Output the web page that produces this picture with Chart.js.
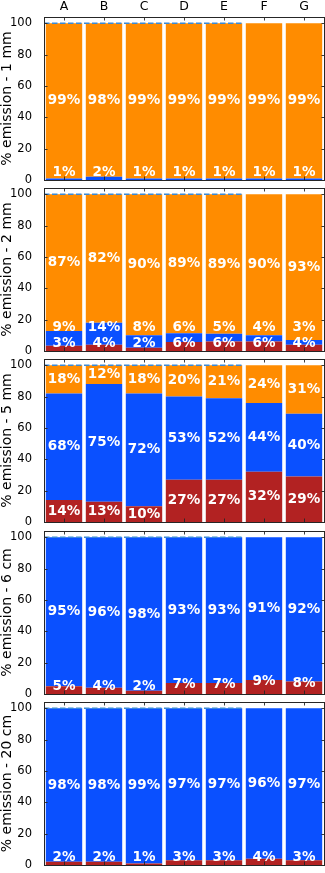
<!DOCTYPE html>
<html>
<head>
<meta charset="utf-8">
<script src="https://cdn.jsdelivr.net/npm/chart.js@4.4.1/dist/chart.umd.min.js"></script>
<style>
  html, body { margin: 0; padding: 0; background: #ffffff; width: 325px; height: 873px; overflow: hidden; }
  canvas { position: absolute; left: 0; }
</style>
</head>
<body>
<canvas id="c0" width="325" height="188" style="top:0px"></canvas>
<canvas id="c1" width="325" height="188" style="top:171px"></canvas>
<canvas id="c2" width="325" height="188" style="top:342px"></canvas>
<canvas id="c3" width="325" height="188" style="top:514px"></canvas>
<canvas id="c4" width="325" height="188" style="top:685px"></canvas>
<script>
// ---------------- data ----------------
const categories = ['A', 'B', 'C', 'D', 'E', 'F', 'G'];
const yTicks = [0, 20, 40, 60, 80, 100];
const panelTitles = ['% emission - 1 mm', '% emission - 2 mm', '% emission - 5 mm', '% emission - 6 cm', '% emission - 20 cm'];
const seriesNames = ['red', 'blue', 'orange'];

const red1mm    = [0, 0, 0, 0, 0, 0, 0];
const blue1mm   = [1, 2, 1, 1, 1, 1, 1];
const orange1mm = [99, 98, 99, 99, 99, 99, 99];

const red2mm    = [3.3, 4, 2, 5.7, 6, 6, 4];
const blue2mm   = [9.4, 14, 8, 5.6, 5, 4, 3];
const orange2mm = [87.3, 82, 90, 88.7, 89, 90, 93];

const red5mm    = [14, 13, 10, 27, 27, 32, 29];
const blue5mm   = [68, 75, 72, 53, 52, 44, 40];
const orange5mm = [18, 12, 18, 20, 21, 24, 31];

const red6cm    = [5, 4, 2, 7, 7, 9, 8];
const blue6cm   = [95, 96, 98, 93, 93, 91, 92];
const orange6cm = [0, 0, 0, 0, 0, 0, 0];

const red20cm    = [2, 2, 1, 3, 3, 4, 3];
const blue20cm   = [98, 98, 99, 97, 97, 96, 97];
const orange20cm = [0, 0, 0, 0, 0, 0, 0];

const referenceValue = 100;      // dashed reference line
const referenceLastCategory = 'E';

const panels = [
  [red1mm, blue1mm, orange1mm],
  [red2mm, blue2mm, orange2mm],
  [red5mm, blue5mm, orange5mm],
  [red6cm, blue6cm, orange6cm],
  [red20cm, blue20cm, orange20cm]
];

// ---------------- style ----------------
const COLORS = { red: '#B22222', blue: '#0A50FF', orange: '#FF8C00' };
const FONT = 'DejaVu Sans';
const AXIS_COLOR = '#262626';

const decorPlugin = {
  id: 'decor',
  afterDatasetsDraw(chart) {
    const { ctx, chartArea: a, scales: { x, y } } = chart;
    ctx.save();
    // value labels
    ctx.font = 'bold 13.5px "' + FONT + '"';
    ctx.fillStyle = '#ffffff';
    ctx.textAlign = 'center';
    ctx.textBaseline = 'middle';
    for (let i = 0; i < categories.length; i++) {
      let base = 0, prev = -Infinity;
      chart.data.datasets.forEach((ds, d) => {
        const v = ds.data[i];
        if (!v) return;
        const top = base + v;
        let ly = v >= 10 ? base + v / 2 : Math.max(top - 1, 5);
        ly = Math.max(ly, prev + 10);
        prev = ly;
        const bar = chart.getDatasetMeta(d).data[i];
        ctx.fillText(Math.round(v) + '%', bar.x, y.getPixelForValue(ly));
        base = top;
      });
    }
    // dashed reference line
    const ri = categories.indexOf(referenceLastCategory);
    const xEnd = (x.getPixelForValue(ri) + x.getPixelForValue(ri + 1)) / 2;
    const yRef = y.getPixelForValue(referenceValue);
    ctx.strokeStyle = '#3a8ad6';
    ctx.lineWidth = 1.5;
    ctx.setLineDash([5.5, 2.5]);
    ctx.beginPath();
    ctx.moveTo(a.left, yRef);
    ctx.lineTo(xEnd, yRef);
    ctx.stroke();
    ctx.setLineDash([]);
    // frame
    ctx.strokeStyle = AXIS_COLOR;
    ctx.lineWidth = 1;
    ctx.strokeRect(a.left + 0.5, a.top + 0.5, a.right - a.left, a.bottom - a.top);
    // inward ticks
    const tl = 3.5;
    ctx.lineWidth = 0.9;
    ctx.beginPath();
    for (let i = 0; i < categories.length; i++) {
      const px = Math.round(x.getPixelForValue(i)) + 0.5;
      ctx.moveTo(px, a.top); ctx.lineTo(px, a.top + tl);
      ctx.moveTo(px, a.bottom); ctx.lineTo(px, a.bottom - tl);
    }
    yTicks.forEach(v => {
      const py = Math.round(y.getPixelForValue(v)) + 0.5;
      ctx.moveTo(a.left, py); ctx.lineTo(a.left + tl, py);
      ctx.moveTo(a.right + 1, py); ctx.lineTo(a.right + 1 - tl, py);
    });
    ctx.stroke();
    ctx.restore();
  }
};

panels.forEach((series, k) => {
  new Chart(document.getElementById('c' + k), {
    type: 'bar',
    data: {
      labels: categories,
      datasets: series.map((vals, d) => ({
        label: seriesNames[d],
        data: vals,
        backgroundColor: COLORS[seriesNames[d]],
        borderWidth: 0,
        barPercentage: 0.91,
        categoryPercentage: 1.0
      }))
    },
    options: {
      responsive: false,
      animation: false,
      devicePixelRatio: 1,
      layout: { padding: { left: 0, right: 1, top: 0, bottom: 8 } },
      plugins: { legend: { display: false }, tooltip: { enabled: false } },
      scales: {
        x: {
          stacked: true,
          position: 'top',
          grid: { display: false },
          border: { display: false },
          ticks: {
            display: k === 0,
            color: '#000',
            font: { family: FONT, size: 12.5 },
            padding: -5,
            maxRotation: 0
          },
          afterFit: s => { s.height = 17; s.paddingLeft = 0; s.paddingRight = 0; }
        },
        y: {
          stacked: true,
          min: 0,
          max: 104,
          grid: { display: false },
          border: { display: false },
          afterBuildTicks: s => { s.ticks = yTicks.map(v => ({ value: v })); },
          afterFit: s => { s.width = 44; s.paddingTop = 0; s.paddingBottom = 0; },
          ticks: { color: '#000', font: { family: FONT, size: 11.5 }, padding: 4 },
          title: {
            display: true,
            text: panelTitles[k],
            color: '#000',
            font: { family: FONT, size: 14, lineHeight: 1 },
            padding: 0
          }
        }
      }
    },
    plugins: [decorPlugin]
  });
});
</script>
</body>
</html>
